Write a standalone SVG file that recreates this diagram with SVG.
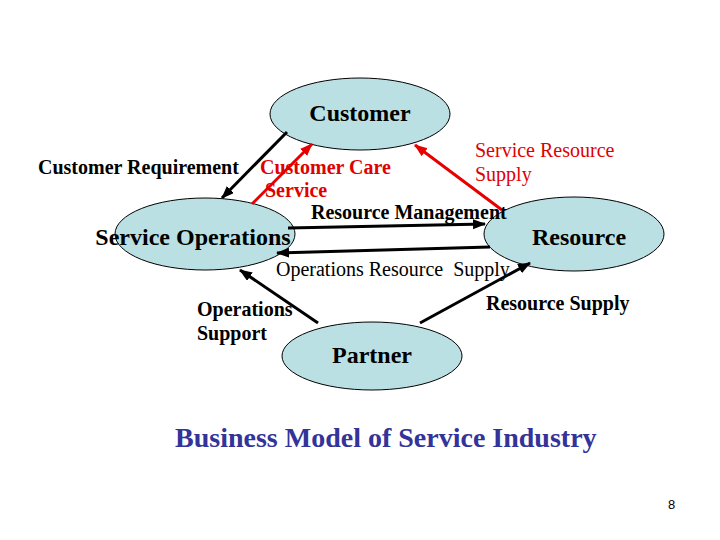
<svg xmlns="http://www.w3.org/2000/svg" width="720" height="540" viewBox="0 0 720 540">
<style>
.node{fill:#BBE0E3;stroke:#000;stroke-width:1}
.nl{font-family:"Liberation Serif",serif;font-weight:bold;font-size:24px;fill:#000;text-anchor:middle}
.el{font-family:"Liberation Serif",serif;font-size:20px;fill:#000}
.b{font-weight:bold}
.red{fill:#E00000}
.k{stroke:#000;stroke-width:3;fill:none}
.r{stroke:#E80000;stroke-width:3;fill:none}
</style>
<defs>
<marker id="ak" markerUnits="userSpaceOnUse" markerWidth="14" markerHeight="12" refX="12" refY="5" orient="auto"><path d="M0,0 L13,5 L0,10 Z" fill="#000"/></marker>
<marker id="ar" markerUnits="userSpaceOnUse" markerWidth="14" markerHeight="12" refX="12" refY="5" orient="auto"><path d="M0,0 L13,5 L0,10 Z" fill="#E80000"/></marker>
</defs>
<rect width="720" height="540" fill="#fff"/>
<g id="customer"><ellipse class="node" cx="360" cy="114" rx="90" ry="36"/><text class="nl" x="360" y="121">Customer</text></g>
<g id="service-operations"><ellipse class="node" cx="205" cy="234" rx="90" ry="36"/><text class="nl" x="193" y="245">Service Operations</text></g>
<g id="resource"><ellipse class="node" cx="574" cy="234" rx="90" ry="37"/><text class="nl" x="579" y="245">Resource</text></g>
<g id="partner"><ellipse class="node" cx="372" cy="356" rx="90" ry="34"/><text class="nl" x="372" y="363">Partner</text></g>
<g id="connectors">
<line class="k" x1="287" y1="132" x2="222" y2="198" marker-end="url(#ak)"/>
<line class="r" x1="252" y1="204" x2="312" y2="144" marker-end="url(#ar)"/>
<line class="r" x1="502" y1="210" x2="415" y2="145" marker-end="url(#ar)"/>
<line class="k" x1="288" y1="228" x2="485" y2="224" marker-end="url(#ak)"/>
<line class="k" x1="490" y1="247" x2="277" y2="253" marker-end="url(#ak)"/>
<line class="k" x1="318" y1="323" x2="240" y2="270" marker-end="url(#ak)"/>
<line class="k" x1="420" y1="323" x2="530" y2="263" marker-end="url(#ak)"/>
</g>
<g id="edge-labels">
<text class="el b" x="38" y="174">Customer Requirement</text>
<text class="el b red" x="260" y="174">Customer Care</text>
<text class="el b red" x="265" y="197">Service</text>
<text class="el red" x="475" y="157">Service Resource</text>
<text class="el red" x="475" y="181">Supply</text>
<text class="el b" x="311" y="219">Resource Management</text>
<text class="el" x="276" y="276" xml:space="preserve">Operations Resource  Supply</text>
<text class="el b" x="197" y="316">Operations</text>
<text class="el b" x="197" y="340">Support</text>
<text class="el b" x="486" y="310">Resource Supply</text>
</g>
<text x="175" y="447" font-family="'Liberation Serif',serif" font-weight="bold" font-size="28px" fill="#333399">Business Model of Service Industry</text>
<text x="668" y="509" font-family="'Liberation Sans',sans-serif" font-size="13px" fill="#000">8</text>
</svg>
